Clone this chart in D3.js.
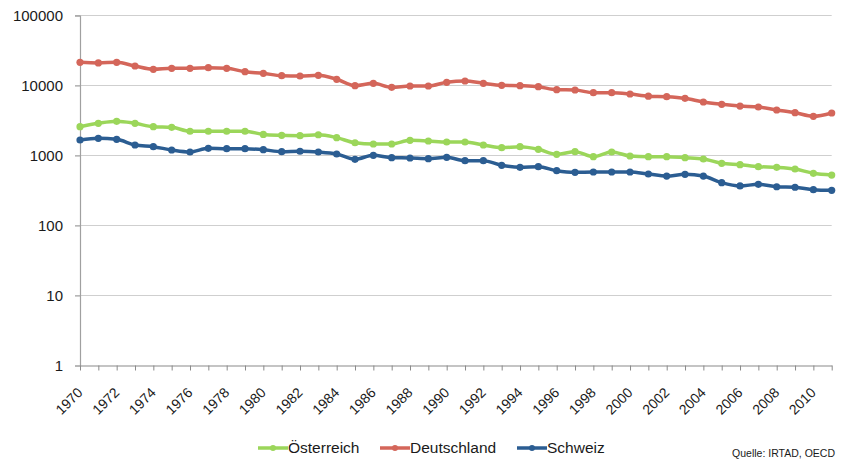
<!DOCTYPE html>
<html><head><meta charset="utf-8">
<script src="https://cdn.jsdelivr.net/npm/d3@7"></script>
<style>
body{margin:0;background:#fff;}
svg{display:block;font-family:"Liberation Sans",Arial,sans-serif;}
</style></head>
<body><svg id="c" width="842" height="462"></svg>
<script>
const years = d3.range(1970, 2012);
const oesterreich = [2580,2880,3080,2880,2580,2530,2220,2220,2220,2220,2000,1945,1920,1980,1800,1520,1460,1460,1650,1610,1560,1560,1413,1292,1335,1227,1040,1133,961,1122,984,961,961,930,891,774,739,692,678,641,557,526];
const deutschland = [21450,21000,21450,19000,17030,17600,17600,17950,17600,15740,14940,13800,13670,13990,12270,9930,10740,9420,9840,9840,11110,11590,10740,10070,9930,9610,8710,8630,7890,7890,7560,7040,6920,6560,5810,5390,5090,4930,4470,4090,3630,4050];
const schweiz = [1665,1762,1703,1413,1335,1199,1122,1267,1250,1250,1210,1133,1150,1122,1050,883,1007,930,921,900,943,843,843,724,678,692,607,575,581,581,581,544,509,539,509,409,367,388,358,352,325,318];
const yTicks = [1,10,100,1000,10000,100000];
const xLabelYears = d3.range(1970, 2012, 2);
const seriesNames = ["Österreich","Deutschland","Schweiz"];
const seriesColors = ["#9bd65a","#d4665a","#2b5d92"];
const source = "Quelle: IRTAD, OECD";

const svg = d3.select("#c");
const x = d3.scalePoint().domain(years).range([80, 831.7]);
const y = d3.scaleLog().domain([1, 100000]).range([365.5, 15.5]);

// gridlines
svg.append("g").selectAll("line").data(yTicks.slice(1)).join("line")
  .attr("x1", 75).attr("x2", 831.7)
  .attr("y1", d => y(d)).attr("y2", d => y(d))
  .attr("stroke", "#cfcfcf").attr("stroke-width", 1);

// y axis
const yAxis = svg.append("g").attr("transform", "translate(80,0)")
  .call(d3.axisLeft(y).tickValues(yTicks).tickFormat(d3.format("d")).tickSize(5).tickPadding(12));
yAxis.select(".domain").attr("stroke", "#a0a0a0").attr("stroke-width", 1.2);
yAxis.selectAll(".tick line").attr("stroke", "#a0a0a0");
yAxis.selectAll("text").attr("font-size", 15).attr("fill", "#1a1a1a");

// x axis
const xAxis = svg.append("g").attr("transform", "translate(0,365.5)")
  .call(d3.axisBottom(x).tickValues(years).tickFormat(d => xLabelYears.includes(d) ? d : "").tickSize(5).tickSizeOuter(0));
xAxis.select(".domain").attr("stroke", "#8a8a8a").attr("stroke-width", 1.2);
xAxis.selectAll(".tick line").attr("stroke", "#8a8a8a");
xAxis.selectAll("text").attr("font-size", 14).attr("fill", "#1a1a1a")
  .attr("text-anchor", "end").attr("dy", 0)
  .attr("transform", "translate(3,28) rotate(-45)").attr("y", 0).attr("x", 0);

// lines
const data = [oesterreich, deutschland, schweiz];
const line = d3.line().x((d, i) => x(years[i])).y(d => y(d)).curve(d3.curveMonotoneX);
data.forEach((vals, k) => {
  const g = svg.append("g");
  g.append("path").datum(vals).attr("d", line).attr("fill", "none")
    .attr("stroke", seriesColors[k]).attr("stroke-width", 3.5).attr("stroke-linejoin", "round");
  g.selectAll("circle").data(vals).join("circle")
    .attr("cx", (d, i) => x(years[i])).attr("cy", d => y(d)).attr("r", 3.6)
    .attr("fill", seriesColors[k]);
});

// legend
const legX = [258, 380, 517];
const leg = svg.append("g");
seriesNames.forEach((n, k) => {
  const g = leg.append("g").attr("transform", `translate(${legX[k]},448)`);
  g.append("line").attr("x1", 0).attr("x2", 30).attr("stroke", seriesColors[k]).attr("stroke-width", 3.5);
  g.append("circle").attr("cx", 15).attr("r", 3).attr("fill", seriesColors[k]);
  g.append("text").attr("x", 30).attr("dy", "0.35em").attr("font-size", 15.5).attr("fill", "#1a1a1a").text(n);
});

svg.append("text").attr("x", 835).attr("y", 457).attr("text-anchor", "end")
  .attr("font-size", 10.5).attr("fill", "#1a1a1a").text(source);
</script></body></html>
